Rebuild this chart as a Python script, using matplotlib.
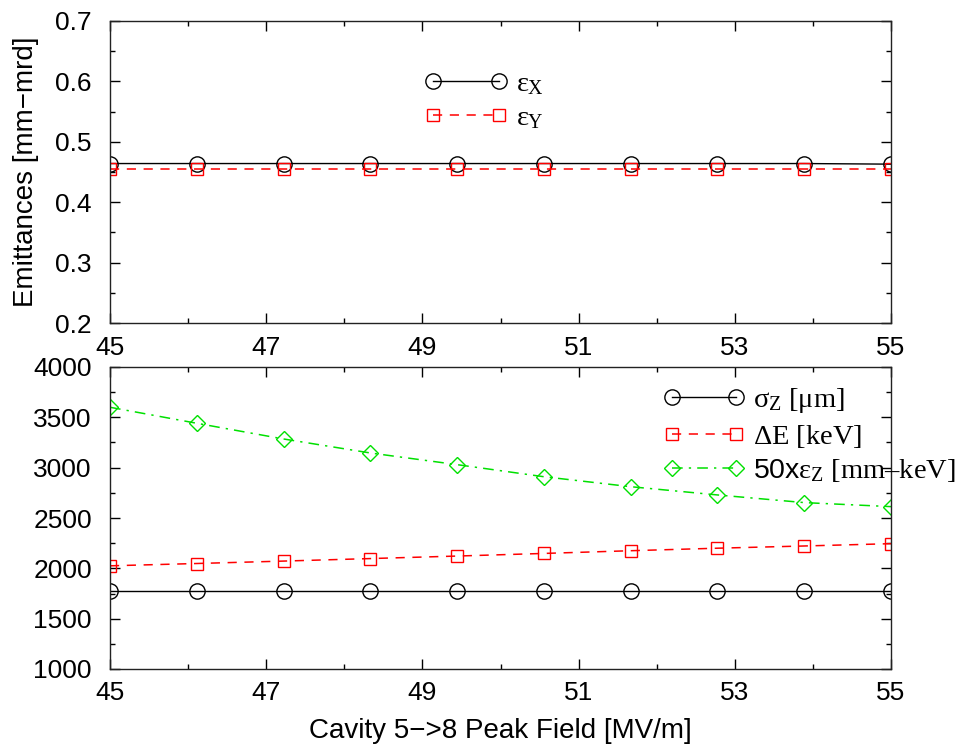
import matplotlib
matplotlib.use("Agg")
import matplotlib.pyplot as plt
from matplotlib.ticker import MultipleLocator

plt.rcParams['font.family'] = ['Liberation Sans', 'DejaVu Sans']
plt.rcParams['mathtext.fontset'] = 'custom'
plt.rcParams['mathtext.rm'] = 'Liberation Serif'
plt.rcParams['mathtext.it'] = 'Liberation Serif'
plt.rcParams['mathtext.sf'] = 'Liberation Sans'

# Cavity 5->8 peak field scan [MV/m]
field = [45.0, 46.111, 47.222, 48.333, 49.444, 50.556, 51.667, 52.778, 53.889, 55.0]

# Transverse emittances [mm-mrd]
eps_x = [0.464, 0.464, 0.464, 0.464, 0.464, 0.464, 0.464, 0.464, 0.464, 0.463]
eps_y = [0.455, 0.455, 0.455, 0.455, 0.455, 0.455, 0.455, 0.455, 0.455, 0.455]

# Longitudinal quantities
sigma_z = [1778, 1778, 1778, 1778, 1778, 1778, 1778, 1778, 1778, 1778]
delta_e = [2025, 2048, 2072, 2097, 2122, 2148, 2175, 2200, 2222, 2245]
eps_z50 = [3600, 3441, 3285, 3146, 3030, 2910, 2811, 2729, 2653, 2613]

xticks = [45, 47, 49, 51, 53, 55]

W, H = 956, 753
fig = plt.figure(figsize=(W / 100, H / 100), dpi=100)

def frame(top, bottom):
    left, right = 110, 891
    return [left / W, 1 - bottom / H, (right - left) / W, (bottom - top) / H]

ax1 = fig.add_axes(frame(21, 323))
ax2 = fig.add_axes(frame(367, 669))

tick_fs = 19
label_fs = 20
leg_fs = 20.5

def style(ax):
    ax.set_xlim(45, 55)
    ax.set_xticks(xticks)
    ax.xaxis.set_minor_locator(MultipleLocator(1))
    ax.tick_params(which='both', direction='in', top=True, right=True,
                   labelsize=tick_fs, width=1.0, color='black')
    ax.tick_params(which='major', length=7)
    ax.tick_params(which='minor', length=3.5)
    ax.tick_params(axis='x', pad=9)
    ax.tick_params(axis='y', pad=13)
    for s in ax.spines.values():
        s.set_linewidth(1.0)
        s.set_color('#222222')

def legend(ax, x, y, hl):
    ax.legend(loc='upper left', bbox_to_anchor=(x, y), frameon=False,
              numpoints=2, handlelength=hl, handletextpad=0.3, borderpad=0,
              borderaxespad=0, labelspacing=0.27,
              prop={'family': 'Liberation Serif', 'size': leg_fs})

circ = dict(lw=1.0, marker='o', markersize=11, markerfacecolor='none', markeredgewidth=1.0)
sqr = dict(lw=1.1, marker='s', markersize=8.5, markerfacecolor='none', markeredgewidth=1.0)
dia = dict(lw=1.1, marker='D', markersize=7.8, markerfacecolor='none', markeredgewidth=1.0)

ax1.plot(field, eps_x, color='black', ls='-', label=r'$\varepsilon_{\mathrm{X}}$', **circ)
ax1.plot(field, eps_y, color='red', ls=(0, (6, 5)), label=r'$\varepsilon_{\mathrm{Y}}$', **sqr)
ax1.set_ylim(0.2, 0.7)
ax1.yaxis.set_major_locator(MultipleLocator(0.1))
ax1.yaxis.set_minor_locator(MultipleLocator(0.05))
style(ax1)
ax1.set_ylabel('Emittances [mm\u2212mrd]', fontsize=label_fs, labelpad=12)
legend(ax1, 0.402, 0.834, 2.95)

ax2.plot(field, sigma_z, color='black', ls='-', label=r'$\sigma_{\mathrm{Z}}$ [$\mu$m]', **circ)
ax2.plot(field, delta_e, color='red', ls=(0, (6, 5)), label=r'$\Delta$E [keV]', **sqr)
ax2.plot(field, eps_z50, color='#00e000', ls=(0, (7, 4, 1.5, 4)),
         label='$\\mathsf{50x}\\varepsilon_{\\mathrm{Z}}$ [mm\u2013keV]', **dia)
ax2.set_ylim(1000, 4000)
ax2.yaxis.set_major_locator(MultipleLocator(500))
ax2.yaxis.set_minor_locator(MultipleLocator(250))
style(ax2)
ax2.set_xlabel('Cavity 5\u2212>8 Peak Field [MV/m]', fontsize=label_fs, labelpad=9)
legend(ax2, 0.709, 0.937, 2.85)

fig.savefig('out.png', dpi=100)
